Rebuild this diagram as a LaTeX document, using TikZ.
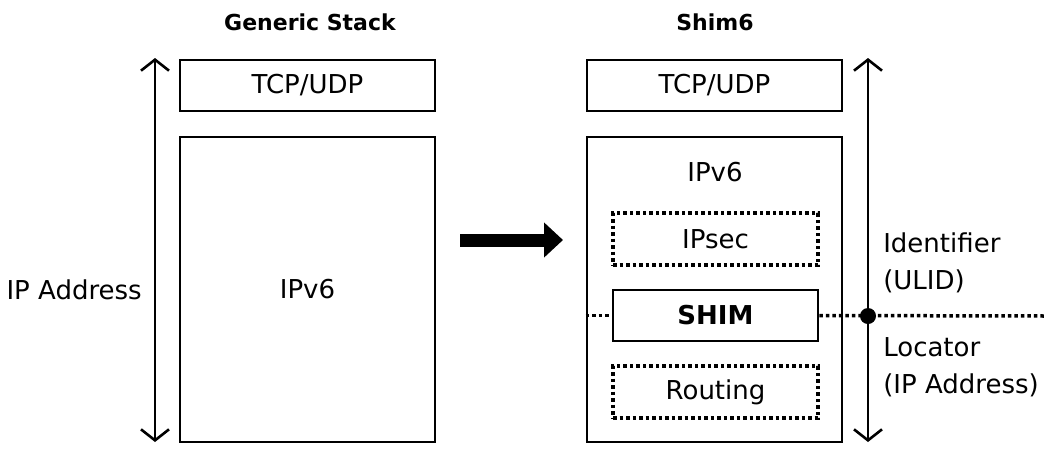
\documentclass[tikz,border=0pt]{standalone}
\usepackage{fontspec}
\setmainfont{DejaVu Sans}
\usepackage{tikz}
\usetikzlibrary{positioning,calc,arrows.meta}

\begin{document}
\begin{tikzpicture}[x=1pt,y=-1pt,
  line width=2.6pt,
  every node/.style={font=\fontsize{26}{30}\selectfont},
  layer/.style={draw,rectangle,minimum width=255pt,minimum height=51pt,inner sep=0pt},
  sublayer/.style={draw,rectangle,minimum width=205pt,minimum height=52pt,inner sep=0pt},
  optional/.style={sublayer,dash pattern=on 3.5pt off 3pt,line width=3.5pt},
  title/.style={font=\fontsize{22}{26}\selectfont\bfseries},
  span/.style={{Straight Barb[length=11pt,width=28pt,line width=2.6pt]}-{Straight Barb[length=11pt,width=28pt,line width=2.6pt]}},
  label/.style={align=left,anchor=west,inner sep=0pt,font=\fontsize{26}{37}\selectfont},
  split/.style={dash pattern=on 3.5pt off 3pt,line width=3.5pt}
]
\useasboundingbox (0,0) rectangle (1055,456);
% generic stack
\node[title] (gtitle) at (310,22) {Generic Stack};
\node[layer] (gtcp) at (307.5,85.5) {TCP/UDP};
\node[layer,minimum height=305pt] (gip) at (307.5,289.5) {IPv6};
\coordinate (gtop) at (155,58);
\coordinate (gbot) at (155,442);
\draw[span] (gtop) -- (gbot);
\node[anchor=east,inner sep=0pt] (gaddr) at (143,290) {IP Address};
% transition
\coordinate (arrl) at (460,240);
\coordinate (arrr) at (563,240);
\draw[line width=13pt,-{Triangle[length=19pt,width=34pt]}] (arrl) -- (arrr);
% shim6 stack
\node[title] (stitle) at (715,22) {Shim6};
\node[layer] (stcp) at (714.5,85.5) {TCP/UDP};
\node[layer,minimum height=305pt] (sip) at (714.5,289.5) {};
\node (sipname) at (715,172) {IPv6};
\node[optional] (ipsec) at (715.5,239) {IPsec};
\node[sublayer,minimum height=51pt,font=\fontsize{26}{30}\selectfont\bfseries] (shim) at (715.5,315.5) {SHIM};
\node[optional] (routing) at (715.5,392) {Routing};
\coordinate (stop) at (868,58);
\coordinate (sbot) at (868,442);
\draw[span] (stop) -- (sbot);
% identifier / locator split
\coordinate (splitl) at (sip.west |- shim.west);
\coordinate (splitr) at (1046,316);
\coordinate (splitdot) at (868,316);
\draw[split] (splitl) -- (shim.west);
\draw[split] (shim.east) -- (splitr);
\fill (splitdot) circle (8pt);
\node[label] (ident) at (882,263) {Identifier\\(ULID)};
\node[label] (locat) at (882,367) {Locator\\(IP Address)};
\end{tikzpicture}
\end{document}
